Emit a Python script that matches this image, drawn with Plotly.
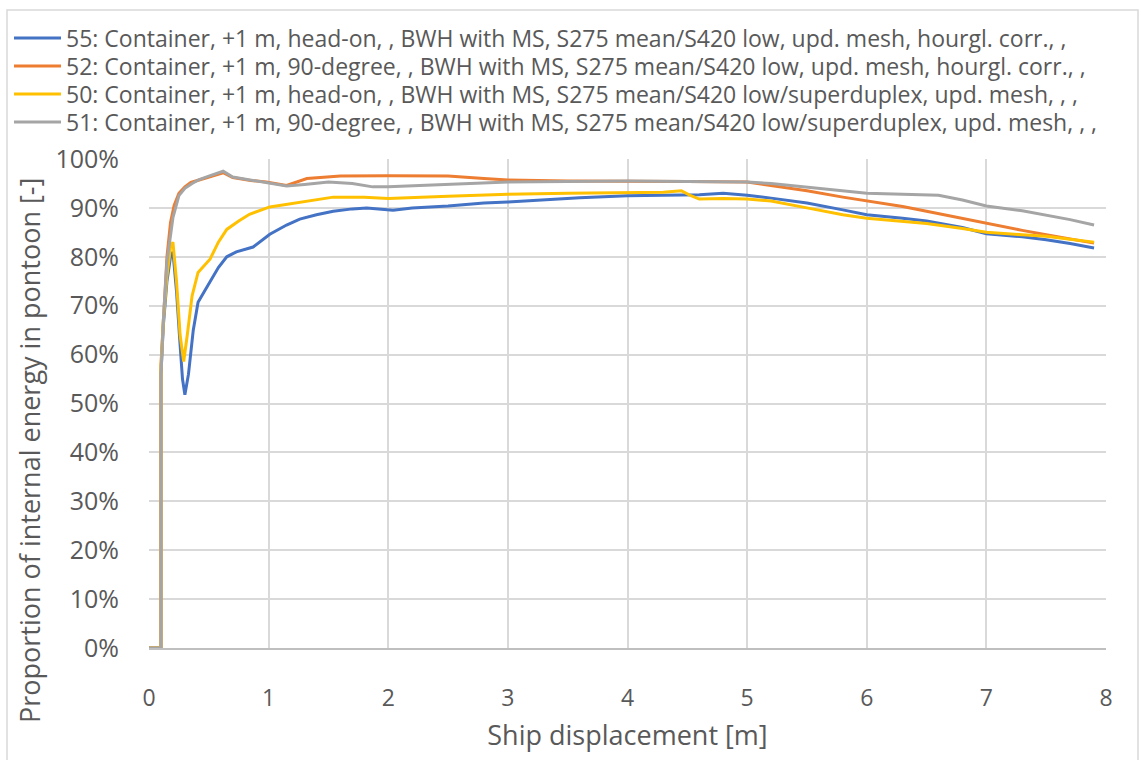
import plotly.graph_objects as go

names = [
    "55: Container, +1 m, head-on, , BWH with MS, S275 mean/S420 low, upd. mesh, hourgl. corr., ,",
    "52: Container, +1 m, 90-degree, , BWH with MS, S275 mean/S420 low, upd. mesh, hourgl. corr., ,",
    "50: Container, +1 m, head-on, , BWH with MS, S275 mean/S420 low/superduplex, upd. mesh, , ,",
    "51: Container, +1 m, 90-degree, , BWH with MS, S275 mean/S420 low/superduplex, upd. mesh, , ,",
]
colors = ["#4472C4", "#ED7D31", "#FFC000", "#A5A5A5"]
x_title = "Ship displacement [m]"
y_title = "Proportion of internal energy in pontoon [-]"

x55 = [0, 0.1, 0.1, 0.12, 0.15, 0.18, 0.2, 0.23, 0.26, 0.28, 0.3, 0.33, 0.37, 0.41, 0.46, 0.51, 0.58, 0.65, 0.73, 0.87,
       1.01, 1.15, 1.26, 1.4, 1.54, 1.7, 1.82, 2.04, 2.2, 2.5, 2.8, 3.0, 3.3, 3.6, 4.0, 4.3, 4.6, 4.8, 5.0, 5.2,
       5.5, 5.8, 6.0, 6.3, 6.5, 6.8, 7.0, 7.3, 7.5, 7.7, 7.9]
y55 = [0, 0, 56, 66, 75, 80, 81, 73, 62, 55, 51.8, 56, 65, 70.7, 72.8, 74.8, 77.8, 80, 81, 82,
       84.6, 86.5, 87.7, 88.6, 89.3, 89.8, 90.0, 89.5, 90.0, 90.4, 91.0, 91.2, 91.7, 92.1, 92.5, 92.6, 92.7, 93.0, 92.6, 92.0,
       91.0, 89.6, 88.6, 87.9, 87.3, 86.0, 84.7, 84.1, 83.5, 82.7, 81.8]

x52 = [0, 0.1, 0.1, 0.12, 0.15, 0.18, 0.21, 0.25, 0.3, 0.35, 0.45, 0.55, 0.62, 0.7, 0.85, 0.98, 1.15, 1.32, 1.6,
       2.0, 2.5, 2.8, 3.0, 3.5, 4.0, 4.5, 5.0, 5.2, 5.5, 5.8, 6.0, 6.3, 6.5, 6.8, 7.0, 7.3, 7.5, 7.7, 7.9]
y52 = [0, 0, 58, 68, 80, 87, 90.5, 93, 94.3, 95.2, 96.0, 96.8, 97.2, 96.2, 95.6, 95.3, 94.6, 96.0, 96.5,
       96.6, 96.5, 96.0, 95.7, 95.5, 95.5, 95.4, 95.3, 94.6, 93.5, 92.2, 91.4, 90.3, 89.3, 87.8, 86.8, 85.4, 84.5, 83.6, 82.8]

x50 = [0, 0.1, 0.1, 0.12, 0.15, 0.18, 0.2, 0.23, 0.26, 0.29, 0.32, 0.36, 0.41, 0.46, 0.51, 0.58, 0.65, 0.75, 0.84,
       1.01, 1.26, 1.54, 1.8, 2.0, 2.5, 3.0, 3.5, 4.0, 4.3, 4.45, 4.52, 4.6, 4.8, 5.0, 5.2, 5.5, 5.8, 6.0, 6.3,
       6.5, 6.8, 7.0, 7.3, 7.5, 7.7, 7.9]
y50 = [0, 0, 57, 67, 76, 82, 83, 75, 64, 58.6, 64, 72, 76.8, 78.2, 79.5, 83.0, 85.6, 87.3, 88.7,
       90.2, 91.2, 92.2, 92.2, 91.9, 92.4, 92.8, 93.0, 93.1, 93.2, 93.5, 92.6, 91.8, 91.9, 91.8, 91.4, 90.0, 88.6, 87.9, 87.2,
       86.8, 85.8, 85.0, 84.5, 84.2, 83.6, 83.0]

x51 = [0, 0.1, 0.1, 0.12, 0.15, 0.17, 0.2, 0.25, 0.3, 0.36, 0.42, 0.5, 0.62, 0.7, 0.85, 0.98, 1.15, 1.3, 1.5,
       1.7, 1.87, 2.0, 2.3, 2.6, 3.0, 3.5, 4.0, 4.5, 5.0, 5.2, 5.5, 5.8, 6.0, 6.3, 6.6, 6.8, 7.0, 7.3, 7.5, 7.7, 7.9]
y51 = [0, 0, 56, 67, 79, 83, 88, 92.5, 94, 95, 95.8, 96.5, 97.5, 96.3, 95.7, 95.3, 94.5, 94.8, 95.3,
       95.0, 94.3, 94.3, 94.6, 95.0, 95.3, 95.4, 95.5, 95.4, 95.3, 95.0, 94.2, 93.4, 93.0, 92.8, 92.6, 91.6, 90.4, 89.4, 88.5, 87.6, 86.5]

series = [(x55, y55), (x52, y52), (x50, y50), (x51, y51)]
legend_ids = ["legend", "legend2", "legend3", "legend4"]
legend_rows_px = [38, 66, 94, 122]

FONT = "Open Sans"
GREY_TXT = "#595959"
W, H = 1141, 760
ML, MR, MT, MB = 149, 35, 159, 112

fig = go.Figure()
for (xs, ys), name, col, lid in zip(series, names, colors, legend_ids):
    fig.add_trace(go.Scatter(x=xs, y=[v / 100 for v in ys], mode="lines", name=name, legend=lid,
                             line=dict(color=col, width=3), hoverinfo="skip"))

legend_layout = {}
for lid, ypx in zip(legend_ids, legend_rows_px):
    legend_layout[lid] = dict(xref="container", yref="container", x=9 / W, y=1 - ypx / H,
                              xanchor="left", yanchor="middle", font=dict(family=FONT, size=23, color=GREY_TXT),
                              itemwidth=47, bgcolor="rgba(0,0,0,0)", borderwidth=0)

pw, ph = W - ML - MR, H - MT - MB

fig.update_layout(
    template="none",
    width=W, height=H,
    margin=dict(l=ML, r=MR, t=MT, b=MB, autoexpand=False),
    paper_bgcolor="white", plot_bgcolor="white",
    font=dict(family=FONT, color=GREY_TXT),
    showlegend=True,
    **legend_layout,
    xaxis=dict(range=[0, 8], dtick=1, showgrid=True, gridcolor="#D9D9D9", gridwidth=1.5, automargin=False,
               showline=True, linecolor="#BFBFBF", linewidth=2, zeroline=False,
               tickfont=dict(size=23, color=GREY_TXT), ticks="", ticklabelstandoff=28,
               title=dict(text=x_title, font=dict(size=27, color=GREY_TXT), standoff=15)),
    yaxis=dict(range=[0, 1], dtick=0.1, tickformat=".0%", showgrid=True, gridcolor="#D9D9D9", gridwidth=1.5,
               showline=False, zeroline=False, automargin=False,
               tickfont=dict(size=25, color=GREY_TXT), ticks="", ticklabelstandoff=29),
    annotations=[dict(text=y_title, xref="paper", yref="paper", x=(29 - ML) / pw, y=(H - MB - 451) / ph,
                      xanchor="center", yanchor="middle", textangle=-90, showarrow=False,
                      font=dict(size=27, color=GREY_TXT, family=FONT))],
    shapes=[dict(type="rect", xref="paper", yref="paper", x0=(7 - ML) / pw, x1=(1138 - ML) / pw,
                 y0=(H - MB - 770) / ph, y1=(H - MB - 10) / ph,
                 line=dict(color="#D9D9D9", width=1.5), layer="below")],
)

fig.write_html("out.html")
